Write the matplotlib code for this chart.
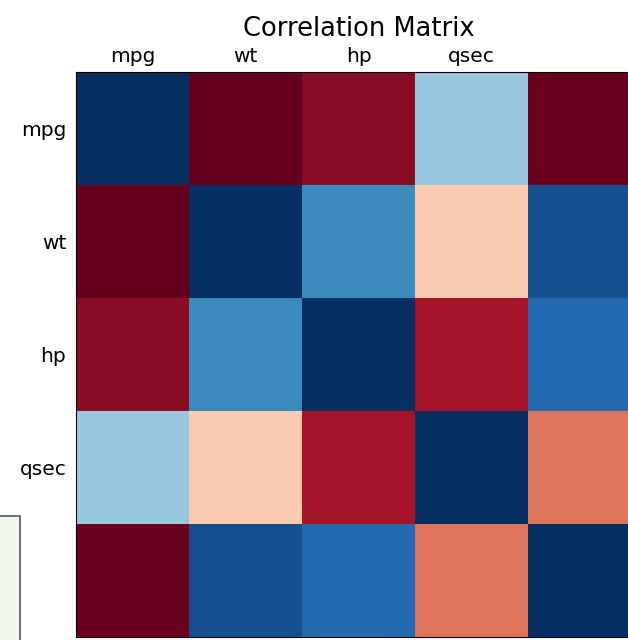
import numpy as np
import matplotlib.pyplot as plt
from matplotlib.patches import Rectangle

# mtcars correlations (mpg, wt, hp, qsec, disp) - only 4 labels shown
columns = ['mpg', 'wt', 'hp', 'qsec', 'disp']
tick_labels = ['mpg', 'wt', 'hp', 'qsec']
corr = np.array([
    [1.000, -0.868, -0.776, 0.419, -0.848],
    [-0.868, 1.000, 0.659, -0.175, 0.888],
    [-0.776, 0.659, 1.000, -0.708, 0.791],
    [0.419, -0.175, -0.708, 1.000, -0.434],
    [-0.848, 0.888, 0.791, -0.434, 1.000],
])

fig = plt.figure(figsize=(6.28, 6.40), dpi=100)

# leftover box of another panel in the lower left
fig.patches.append(Rectangle((-20 / 628, -10 / 640), 40 / 628, 134 / 640,
                             transform=fig.transFigure, facecolor='#eef7ea',
                             edgecolor='#555555', linewidth=1.2))

ax = fig.add_axes([76 / 628, 3 / 640, 565 / 628, 565 / 640])
ax.matshow(corr, cmap='RdBu', aspect='auto')
ax.set_xticks(range(len(tick_labels)))
ax.set_xticklabels(tick_labels, fontsize=14.5)
ax.set_yticks(range(len(tick_labels)))
ax.set_yticklabels(tick_labels, fontsize=14.5)
ax.tick_params(axis='x', length=0, pad=4)
ax.tick_params(axis='y', length=0, pad=7)
fig.text((76 + 282.5) / 628, 1 - 36 / 640, 'Correlation Matrix',
         fontsize=18.5, ha='center', va='baseline')

fig.savefig('out.png', dpi=100)
